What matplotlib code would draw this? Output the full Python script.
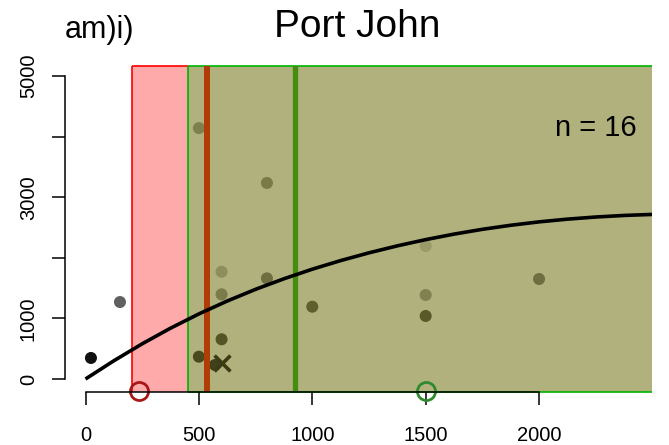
import matplotlib
matplotlib.use("Agg")
import matplotlib.pyplot as plt
from matplotlib.patches import Rectangle

plt.rcParams['font.family'] = ['Liberation Sans', 'DejaVu Sans']

# observations: distance vs. count, grey level per point
obs_x = [24, 152, 500, 800, 600, 600, 800, 1000, 600, 500, 571, 1500, 1500, 1500, 2000]
obs_y = [347, 1270, 4140, 3235, 1770, 1397, 1661, 1193, 655, 368, 231, 2195, 1386, 1040, 1650]
obs_col = ['#111111', '#606060', '#80804f', '#7a7a48', '#8e8e5c', '#7a7a4a', '#6e6e41',
           '#5f5f2e', '#545424', '#4a4a1e', '#40401a', '#9a9a68', '#808050', '#585828', '#6e6e41']

# single highlighted observation
cross_x = [600]
cross_y = [259]

# fitted curve (distance, predicted)
fit_x = [0, 125, 250, 375, 500, 625, 750, 875, 1000, 1125, 1250, 1375, 1500,
         1625, 1750, 1875, 2000, 2125, 2250, 2375, 2500]
fit_y = [0, 301, 581, 839, 1074, 1287, 1480, 1654, 1812, 1954, 2082, 2197, 2300,
         2391, 2470, 2537, 2593, 2638, 2673, 2699, 2716]

# threshold bands and reference lines
band_red = (205, 452)
band_green = (452, 3000)
vline_brown = 536
vline_green = 924
circle_red_x = 236
circle_green_x = 1500

xticks = [0, 500, 1000, 1500, 2000]
yticks = [0, 1000, 2000, 3000, 4000, 5000]
ytick_labels = ['0', '1000', '', '3000', '', '5000']

W, H = 669, 445
fig = plt.figure(figsize=(W / 100, H / 100), dpi=100)
ax = fig.add_axes([65 / W, 1 - 392 / H, (652 - 65) / W, (392 - 66) / H])
x0, x1 = -90.4, 2498
y0, y1 = -214.5, 5165
ax.set_xlim(x0, x1)
ax.set_ylim(y0, y1)

# shaded bands
ax.add_patch(Rectangle((band_red[0], y0), band_red[1] - band_red[0], y1 - y0,
                       facecolor='#ffaaaa', edgecolor='none', zorder=1))
ax.add_patch(Rectangle((band_green[0], y0), band_green[1] - band_green[0], y1 - y0,
                       facecolor='#b1b17d', edgecolor='none', zorder=1))
ec = dict(clip_on=False, zorder=1.5, lw=1.2, solid_capstyle='butt')
ax.plot([band_red[0], band_red[0]], [y0, y1], color='#ff0000', **ec)
ax.plot([band_red[0], band_red[1]], [y1, y1], color='#ff0000', **ec)
ax.plot([band_green[0], band_green[0]], [y0, y1], color='#00b400', **ec)
ax.plot([band_green[0], x1], [y1, y1], color='#00b400', **ec)
ax.plot([band_green[0], x1], [y0, y0], color='#00b400', **ec)

# points
ax.scatter(obs_x, obs_y, s=75, c=obs_col, edgecolors='none', zorder=2)
ax.scatter(cross_x, cross_y, s=130, marker='x', c='#3c3c14', linewidths=2.6, zorder=2.5)

# vertical reference lines
ax.axvline(vline_brown, color='#b03c06', lw=4.3, zorder=3)
ax.axvline(vline_green, color='#468c0f', lw=3.8, zorder=3)

# fitted curve
ax.plot(fit_x, fit_y, color='black', lw=2.6, zorder=4, solid_capstyle='butt')

# open circles on the x axis
ax.plot([circle_red_x], [-200], 'o', ms=13, mfc='none', mec='#a81818', mew=2.0,
        clip_on=False, zorder=5)
ax.plot([circle_green_x], [-200], 'o', ms=13, mfc='none', mec='#2f8a2f', mew=2.0,
        clip_on=False, zorder=5)

# axes in base-graphics style
for s in ['top', 'right']:
    ax.spines[s].set_visible(False)
ax.spines['left'].set_bounds(0, 5000)
ax.spines['bottom'].set_bounds(0, 2000)
for s in ['left', 'bottom']:
    ax.spines[s].set_linewidth(1.1)
    ax.spines[s].set_zorder(6)
ax.set_xticks(xticks)
ax.set_xticklabels([str(v) for v in xticks])
ax.set_yticks(yticks)
ax.set_yticklabels(ytick_labels, rotation=90, va='center')
ax.tick_params(direction='out', length=9.5, width=1.1, labelsize=14.5, pad=15)
ax.tick_params(axis='y', pad=10)

ax.text(2251, 4150, 'n = 16', fontsize=21, ha='center', va='center', zorder=6)
fig.text(100 / W, 1 - 30 / H, 'am)i)', fontsize=22, ha='center', va='center')
fig.text(357 / W, 1 - 27 / H, 'Port John', fontsize=28, ha='center', va='center')

fig.savefig('out.png', dpi=100)
